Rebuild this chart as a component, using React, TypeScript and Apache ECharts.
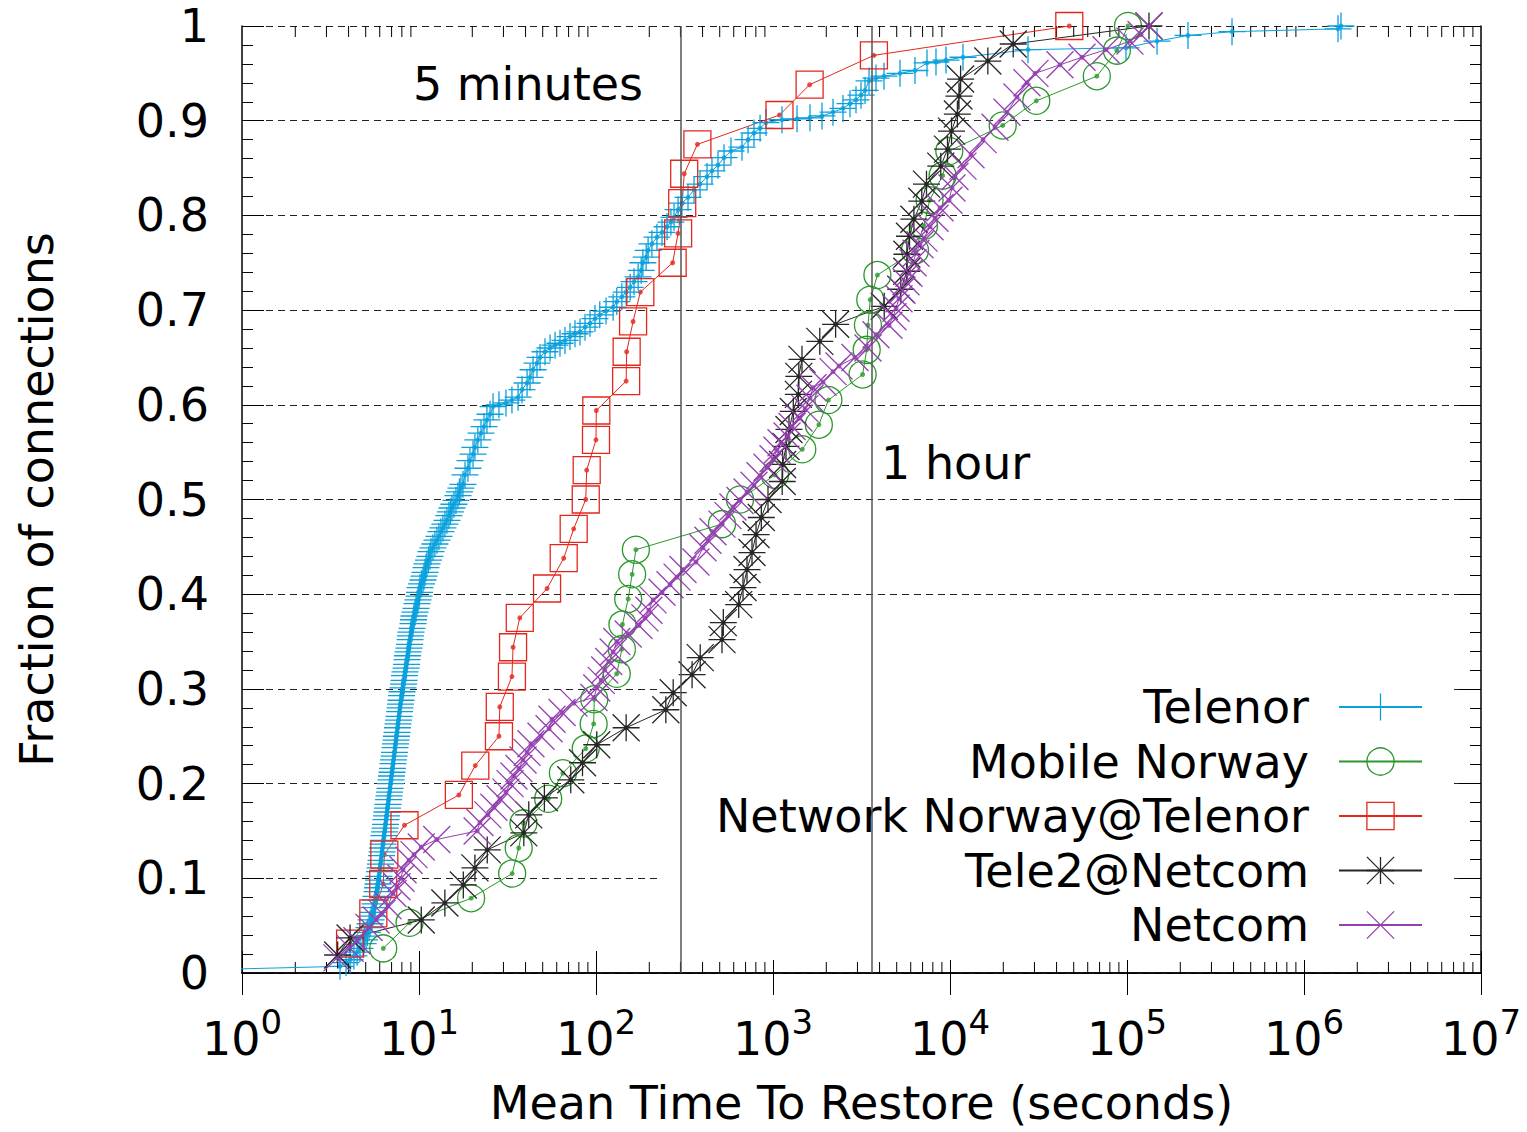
import React, { useEffect, useRef } from 'react';
import * as echarts from 'echarts';

// Mean time to restore per connection, as a CDF for each operator.
const seriesNames = ['Telenor', 'Mobile Norway', 'Network Norway@Telenor', 'Tele2@Netcom', 'Netcom'];
const seriesColors = ['#0aa0dc', '#2a982a', '#e4261c', '#262626', '#9440b0'];

const telenorSeconds = [
  0.5,
  3.58, 3.87, 4.08, 4.29, 4.47, 4.64, 4.83, 4.92, 5.02, 5.12,
  5.22, 5.29, 5.36, 5.43, 5.5, 5.57, 5.64, 5.68, 5.72, 5.79,
  5.83, 5.87, 5.91, 5.94, 5.98, 6.02, 6.06, 6.1, 6.14, 6.18,
  6.22, 6.26, 6.3, 6.34, 6.39, 6.43, 6.47, 6.51, 6.55, 6.6,
  6.64, 6.68, 6.73, 6.77, 6.82, 6.86, 6.9, 6.95, 6.99, 7.04,
  7.09, 7.13, 7.18, 7.23, 7.27, 7.32, 7.37, 7.42, 7.46, 7.51,
  7.56, 7.61, 7.66, 7.71, 7.76, 7.81, 7.86, 7.91, 7.97, 8.02,
  8.12, 8.18, 8.23, 8.28, 8.34, 8.45, 8.5, 8.56, 8.61, 8.67,
  8.78, 8.84, 8.9, 8.96, 9.01, 9.13, 9.25, 9.31, 9.37, 9.5,
  9.62, 9.75, 9.87, 10.0, 10.07, 10.13, 10.33, 10.53, 10.67, 10.81,
  10.95, 11.09, 11.31, 11.53, 11.68, 11.99, 12.3, 12.63, 12.96, 13.3,
  13.65, 14.01, 14.38, 14.76, 15.05, 15.35, 15.75, 16.17, 16.59, 16.92,
  17.25, 17.71,
  18.2, 18.9, 19.4, 20.2, 20.7, 21.5, 22.4, 23.3, 24.2, 25.2,
  26.2, 28.3, 31.0, 33.5, 36.3, 38.2, 40.8, 42.4, 44.1, 46.4,
  48.3, 51.5, 55.0, 58.7, 62.6, 66.8, 71.3, 76.1, 81.2, 86.7,
  92.5, 98.7, 105, 114, 125, 131, 140, 148, 156, 164,
  173, 180, 184, 192, 197, 207, 221, 236, 252, 265,
  276, 291, 306, 331, 358, 387, 424, 452, 489, 529,
  579, 668, 723, 781, 845, 913, 1124, 1367, 1618, 1892,
  2183, 2486, 2723, 2944, 3142, 3311, 3487, 3818, 4238, 5219,
  6343, 7415, 8334, 9494, 11840,
  27590, 98700, 147800, 221100, 392000, 1557000, 1618000,
];
const telenorFraction = [
  0.003,
  0.007, 0.011, 0.014, 0.018, 0.022, 0.026, 0.031, 0.035, 0.039, 0.043,
  0.048, 0.052, 0.056, 0.06, 0.064, 0.069, 0.073, 0.077, 0.081, 0.086,
  0.09, 0.094, 0.098, 0.102, 0.107, 0.111, 0.115, 0.119, 0.124, 0.128,
  0.132, 0.136, 0.14, 0.145, 0.149, 0.153, 0.157, 0.162, 0.166, 0.17,
  0.174, 0.178, 0.183, 0.187, 0.191, 0.195, 0.2, 0.204, 0.208, 0.212,
  0.216, 0.221, 0.225, 0.229, 0.233, 0.238, 0.242, 0.246, 0.25, 0.254,
  0.259, 0.263, 0.267, 0.271, 0.276, 0.28, 0.284, 0.288, 0.293, 0.297,
  0.301, 0.305, 0.309, 0.314, 0.318, 0.322, 0.326, 0.331, 0.335, 0.339,
  0.343, 0.347, 0.352, 0.356, 0.36, 0.364, 0.369, 0.373, 0.377, 0.381,
  0.385, 0.39, 0.394, 0.398, 0.402, 0.407, 0.411, 0.415, 0.419, 0.423,
  0.428, 0.432, 0.436, 0.44, 0.445, 0.449, 0.453, 0.457, 0.461, 0.466,
  0.47, 0.474, 0.478, 0.483, 0.487, 0.491, 0.495, 0.499, 0.504, 0.508,
  0.512, 0.516,
  0.526, 0.533, 0.541, 0.548, 0.555, 0.563, 0.57, 0.577, 0.584, 0.59,
  0.598, 0.6, 0.602, 0.605, 0.608, 0.616, 0.623, 0.629, 0.637, 0.644,
  0.65, 0.656, 0.66, 0.663, 0.665, 0.668, 0.672, 0.675, 0.677, 0.682,
  0.686, 0.691, 0.695, 0.699, 0.703, 0.709, 0.714, 0.719, 0.724, 0.73,
  0.735, 0.742, 0.75, 0.756, 0.763, 0.77, 0.777, 0.782, 0.788, 0.793,
  0.798, 0.806, 0.813, 0.819, 0.827, 0.833, 0.841, 0.847, 0.853, 0.861,
  0.868, 0.872, 0.88, 0.887, 0.892, 0.898, 0.901, 0.902, 0.903, 0.905,
  0.909, 0.913, 0.918, 0.922, 0.927, 0.932, 0.942, 0.945, 0.947, 0.95,
  0.953, 0.961, 0.962, 0.964, 0.967,
  0.975, 0.977, 0.984, 0.99, 0.994, 0.997, 1.0,
];

const mobileNorwaySeconds = [
  6.28, 8.84, 19.7, 33.6, 36.6, 38.9, 53.7, 65.0, 87.5, 97.0,
  97.8, 131, 140, 141, 152, 160, 168, 515, 651, 1026,
  1464, 1816, 2056, 3208, 3383, 3438, 3545, 3889, 6343, 7131,
  7668, 9082, 9909, 19850, 30730, 67520, 87680, 101300,
];
const mobileNorwayFraction = [
  0.026, 0.053, 0.079, 0.105, 0.132, 0.158, 0.184, 0.211, 0.237, 0.263,
  0.289, 0.316, 0.342, 0.368, 0.395, 0.421, 0.447, 0.474, 0.5, 0.526,
  0.553, 0.579, 0.605, 0.632, 0.658, 0.684, 0.711, 0.737, 0.763, 0.789,
  0.816, 0.842, 0.868, 0.895, 0.921, 0.947, 0.974, 1.0,
];

const networkNorwaySeconds = [
  4.08, 5.52, 6.28, 6.37, 8.28, 16.8, 20.8, 28.3, 28.6, 33.5,
  34.0, 37.1, 52.9, 65.7, 74.8, 87.5, 88.6, 100, 100.4, 148,
  149, 162, 178, 271, 291, 307, 315, 374, 1088, 1610,
  3717, 47210,
];
const networkNorwayFraction = [
  0.031, 0.063, 0.094, 0.125, 0.156, 0.188, 0.219, 0.25, 0.281, 0.313,
  0.344, 0.375, 0.406, 0.438, 0.469, 0.5, 0.531, 0.563, 0.594, 0.625,
  0.656, 0.688, 0.719, 0.75, 0.781, 0.813, 0.844, 0.875, 0.906, 0.938,
  0.969, 1.0,
];

const tele2Seconds = [
  3.47, 4.08, 10.3, 14.0, 17.8, 20.7, 24.3, 39.1, 41.7, 51.1,
  72.0, 83.9, 101, 148, 248, 273, 349, 388, 515, 524,
  640, 677, 713, 761, 802, 859, 937, 1127, 1133, 1184,
  1231, 1302, 1391, 1399, 1458, 1838, 2258, 4249, 5272, 5701,
  5708, 5905, 6252, 6928, 7365, 8872, 9681, 10200, 11010, 11240,
  11480, 16360, 22760, 133100,
];
const tele2Fraction = [
  0.019, 0.037, 0.056, 0.074, 0.093, 0.111, 0.13, 0.148, 0.167, 0.185,
  0.204, 0.222, 0.241, 0.259, 0.278, 0.296, 0.315, 0.333, 0.352, 0.37,
  0.389, 0.407, 0.426, 0.444, 0.463, 0.481, 0.5, 0.519, 0.537, 0.556,
  0.574, 0.593, 0.611, 0.63, 0.648, 0.667, 0.685, 0.704, 0.722, 0.741,
  0.759, 0.778, 0.796, 0.815, 0.833, 0.852, 0.87, 0.889, 0.907, 0.926,
  0.944, 0.963, 0.981, 1.0,
];

const netcomSeconds = [
  3.44, 4.08, 4.46, 5.22, 5.72, 6.18, 6.68, 7.13, 7.51, 7.91,
  8.12, 8.78, 9.37, 10.3, 12.6, 21.3, 22.1, 24.5, 26.5, 28.7,
  31.0, 32.7, 34.4, 36.7, 38.7, 40.8, 42.9, 48.9, 54.3, 56.4,
  64.3, 75.1, 97.4, 101, 107, 112, 118, 125, 131, 152,
  175, 189, 199, 210, 236, 262, 287, 310, 367, 402,
  429, 458, 515, 557, 594, 651, 713, 781, 845, 925,
  1000, 1053, 1110, 1200, 1281, 1403, 1516, 1618, 1683, 1917,
  2183, 2360, 2906, 3442, 3818, 4523, 4764, 4953, 5151, 5357,
  5642, 5867, 6180, 6427, 6768, 7131, 7709, 8229, 8781, 9872,
  10260, 10670, 11840, 13140, 15370, 17960, 20990, 23900, 27230, 30210,
  41820, 55700, 76100, 103900, 120000, 133100,
];
const netcomFraction = [
  0.016, 0.026, 0.034, 0.048, 0.056, 0.063, 0.071, 0.084, 0.091, 0.1,
  0.109, 0.119, 0.125, 0.133, 0.141, 0.15, 0.159, 0.167, 0.175, 0.184,
  0.191, 0.2, 0.208, 0.216, 0.225, 0.233, 0.242, 0.25, 0.258, 0.268,
  0.275, 0.285, 0.291, 0.301, 0.309, 0.32, 0.329, 0.339, 0.35, 0.358,
  0.367, 0.375, 0.383, 0.394, 0.402, 0.41, 0.418, 0.426, 0.434, 0.449,
  0.457, 0.466, 0.474, 0.483, 0.492, 0.499, 0.508, 0.515, 0.525, 0.534,
  0.543, 0.552, 0.56, 0.567, 0.577, 0.586, 0.596, 0.607, 0.618, 0.624,
  0.635, 0.641, 0.65, 0.66, 0.674, 0.684, 0.693, 0.702, 0.712, 0.721,
  0.73, 0.739, 0.75, 0.76, 0.769, 0.776, 0.788, 0.797, 0.808, 0.816,
  0.829, 0.841, 0.852, 0.864, 0.88, 0.893, 0.909, 0.925, 0.94, 0.95,
  0.959, 0.967, 0.975, 0.984, 0.991, 1.0,
];

// Reference times marked with vertical lines (seconds).
const markerTimes = [300, 3600];
const markerTexts = ['5 minutes', '1 hour'];

const yTickLabels = ['0', '0.1', '0.2', '0.3', '0.4', '0.5', '0.6', '0.7', '0.8', '0.9', '1'];
const xDecadeExponents = [0, 1, 2, 3, 4, 5, 6, 7];

const FONT = '"DejaVu Sans", "Liberation Sans", sans-serif';

// Open point styles: plus, circle, square, asterisk, cross.
const symbols = [
  'path://M0,-1L0,1M-1,0L1,0',
  'circle',
  'rect',
  'path://M0,-1L0,1M-1,0L1,0M-1,-1L1,1M-1,1L1,-1',
  'path://M-1,-1L1,1M-1,1L1,-1',
];

const seriesData = [
  [telenorSeconds, telenorFraction],
  [mobileNorwaySeconds, mobileNorwayFraction],
  [networkNorwaySeconds, networkNorwayFraction],
  [tele2Seconds, tele2Fraction],
  [netcomSeconds, netcomFraction],
];

function zip(xs: number[], ys: number[]) {
  const n = Math.min(xs.length, ys.length);
  return xs.slice(0, n).map((x, i) => [x, ys[i]]);
}

// Minor ticks of the log axis: 2..9 within each decade.
const minorTickValues: number[] = [];
for (let k = 0; k < 7; k++) {
  for (let m = 2; m <= 9; m++) minorTickValues.push(m * Math.pow(10, k));
}

export default function App() {
  const ref = useRef<HTMLDivElement>(null);

  useEffect(() => {
    document.body.style.margin = '0';
    if (!ref.current) return;
    const chart = echarts.init(ref.current, undefined, { renderer: 'svg' });

    const lineSeries: any[] = [];
    seriesNames.forEach((name, i) => {
      const c = seriesColors[i];
      const data = zip(seriesData[i][0], seriesData[i][1]);
      lineSeries.push({
        name,
        type: 'line',
        data,
        color: c,
        symbol: symbols[i],
        symbolSize: 27,
        showSymbol: true,
        showAllSymbol: true,
        clip: true,
        lineStyle: { color: c, width: 1 },
        itemStyle: { color: 'rgba(0,0,0,0)', borderColor: c, borderWidth: 1.3 },
        emphasis: { disabled: true },
        silent: true,
        animation: false,
        ...(i === 0
          ? {
              markLine: {
                silent: true,
                animation: false,
                symbol: ['none', 'none'],
                label: { show: false },
                lineStyle: { color: '#555', width: 1.5, type: 'solid' },
                data: markerTimes.map((t) => ({ xAxis: t })),
              },
            }
          : {}),
      });
      lineSeries.push({
        name,
        type: 'scatter',
        data,
        symbol: 'circle',
        symbolSize: 5,
        clip: true,
        itemStyle: { color: c },
        silent: true,
        animation: false,
      });
    });

    const option: any = {
      animation: false,
      textStyle: { fontFamily: FONT },
      grid: { left: 242, right: 46, top: 26, bottom: 159, containLabel: false, outerBoundsMode: 'none' },
      legend: {
        data: seriesNames,
        orient: 'vertical',
        align: 'right',
        right: 75,
        top: 669,
        itemWidth: 83,
        itemHeight: 34,
        itemGap: 8.5,
        padding: [15, 29, 12, 55],
        backgroundColor: '#ffffff',
        z: 1,
        selectedMode: false,
        textStyle: { fontSize: 46, fontFamily: FONT, color: '#000', padding: [0, 25, 0, 0] },
        itemStyle: { borderWidth: 1.3 },
      },
      xAxis: [
        {
          type: 'log',
          logBase: 10,
          min: 1,
          max: 1e7,
          splitNumber: 7,
          name: 'Mean Time To Restore (seconds)',
          nameLocation: 'middle',
          nameGap: 108,
          nameTextStyle: { fontSize: 46, lineHeight: 44, fontFamily: FONT, color: '#000' },
          axisLine: { show: true, lineStyle: { color: '#000', width: 1.5 } },
          axisTick: { show: true, inside: true, length: 22, lineStyle: { color: '#000', width: 1 } },
          splitLine: { show: false },
          axisLabel: {
            show: true,
            margin: 32,
            showMinLabel: true,
            showMaxLabel: true,
            formatter: (v: number) => {
              const e = xDecadeExponents[Math.round(Math.log10(v))];
              return `{b|10}{s|${e}}`;
            },
            rich: {
              b: { fontSize: 46, fontFamily: FONT, color: '#000', padding: [11, 0, 0, 0], verticalAlign: 'bottom' },
              s: { fontSize: 34, fontFamily: FONT, color: '#000', verticalAlign: 'top' },
            },
          },
        },
        {
          type: 'log',
          logBase: 10,
          min: 1,
          max: 1e7,
          splitNumber: 7,
          position: 'top',
          axisLine: { show: true, lineStyle: { color: '#000', width: 1.5 } },
          axisTick: { show: true, inside: true, length: 22, lineStyle: { color: '#000', width: 1 } },
          axisLabel: { show: false },
          splitLine: { show: false },
        },
      ],
      yAxis: [
        {
          type: 'value',
          min: 0,
          max: 1,
          interval: 0.1,
          name: 'Fraction of connections',
          nameLocation: 'middle',
          nameGap: 182,
          nameTextStyle: { fontSize: 46, fontFamily: FONT, color: '#000' },
          axisLine: { show: true, lineStyle: { color: '#000', width: 1.5 } },
          axisTick: { show: true, inside: true, length: 22, lineStyle: { color: '#000', width: 1 } },
          minorTick: { show: true, splitNumber: 5, length: 11, lineStyle: { color: '#000', width: 1 } },
          splitLine: { show: true, lineStyle: { color: '#222', width: 1, type: [7, 5] } },
          axisLabel: {
            fontSize: 46,
            fontFamily: FONT,
            color: '#000',
            margin: 33,
            formatter: (v: number) => yTickLabels[Math.round(v * 10)],
          },
        },
        {
          type: 'value',
          min: 0,
          max: 1,
          interval: 0.1,
          position: 'right',
          axisLine: { show: true, lineStyle: { color: '#000', width: 1.5 } },
          axisTick: { show: true, inside: true, length: 22, lineStyle: { color: '#000', width: 1 } },
          minorTick: { show: true, splitNumber: 5, length: 11, lineStyle: { color: '#000', width: 1 } },
          splitLine: { show: false },
          axisLabel: { show: false },
        },
      ],
      series: [
        {
          type: 'custom',
          name: 'minor ticks',
          xAxisIndex: 0,
          yAxisIndex: 0,
          silent: true,
          animation: false,
          data: minorTickValues.map((v) => [v, 0]),
          encode: { x: 0, y: 1 },
          renderItem: (params: any, api: any) => {
            const v = api.value(0);
            const b = api.coord([v, 0]);
            const t = api.coord([v, 1]);
            const style = { stroke: '#000', lineWidth: 1 };
            return {
              type: 'group',
              children: [
                { type: 'line', shape: { x1: b[0], y1: b[1], x2: b[0], y2: b[1] - 11 }, style },
                { type: 'line', shape: { x1: t[0], y1: t[1], x2: t[0], y2: t[1] + 11 }, style },
              ],
            };
          },
        },
        ...lineSeries,
      ],
      graphic: [
        {
          type: 'text',
          x: 643,
          y: 84,
          style: {
            text: markerTexts[0],
            fontSize: 46,
            fontFamily: FONT,
            fill: '#000',
            align: 'right',
            verticalAlign: 'middle',
          },
        },
        {
          type: 'text',
          x: 881,
          y: 463,
          style: {
            text: markerTexts[1],
            fontSize: 46,
            fontFamily: FONT,
            fill: '#000',
            align: 'left',
            verticalAlign: 'middle',
          },
        },
      ],
    };

    chart.setOption(option);
    return () => chart.dispose();
  }, []);

  return <div ref={ref} style={{ width: 1527, height: 1132 }} />;
}
